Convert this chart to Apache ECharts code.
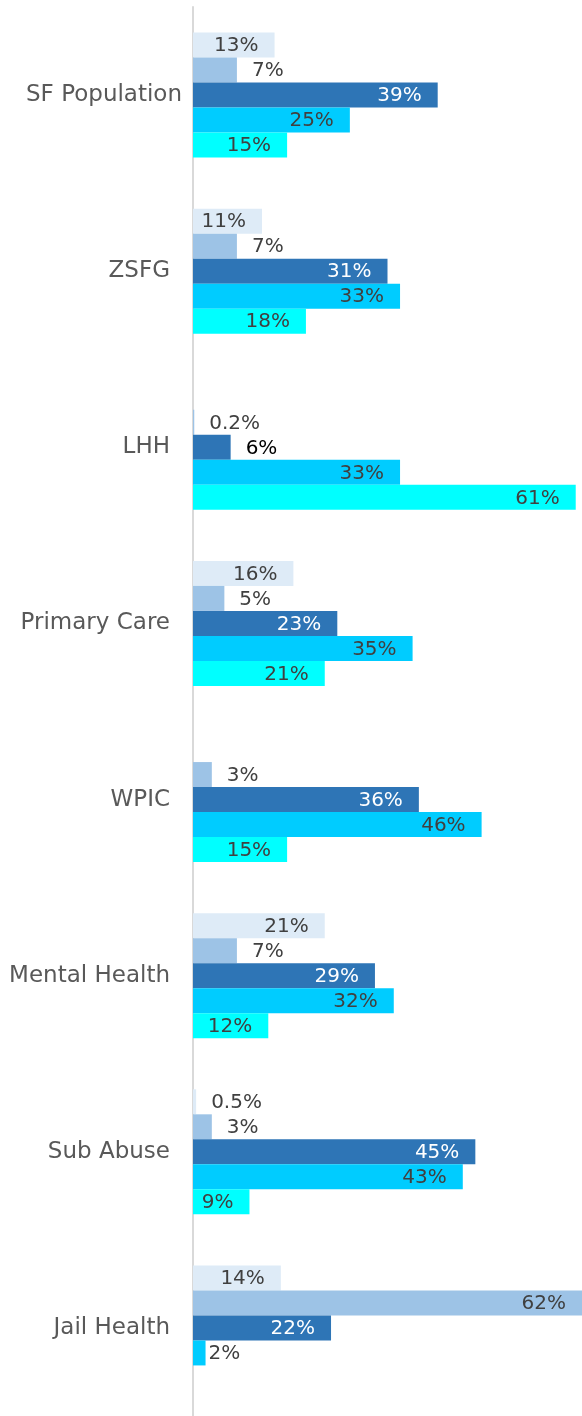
<!DOCTYPE html>
<html>
<head>
<meta charset="utf-8">
<script src="https://cdn.jsdelivr.net/npm/echarts@6/dist/echarts.min.js"></script>
<style>
html,body{margin:0;padding:0;background:#fff;}
#chart{width:582px;height:1416px;}
</style>
</head>
<body>
<div id="chart"></div>
<script>
// Categories (top to bottom)
const categories = ['SF Population', 'ZSFG', 'LHH', 'Primary Care', 'WPIC', 'Mental Health', 'Sub Abuse', 'Jail Health'];
// Series values (percent); null = no bar
const series1 = [13, 11, null, 16, null, 21, 0.5, 14];
const series2 = [7, 7, 0.2, 5, 3, 7, 3, 62];
const series3 = [39, 31, 6, 23, 36, 29, 45, 22];
const series4 = [25, 33, 33, 35, 46, 32, 43, 2];
const series5 = [15, 18, 61, 21, 15, 12, 9, null];
const seriesNames = ['Series 1', 'Series 2', 'Series 3', 'Series 4', 'Series 5'];

const allSeries = [series1, series2, series3, series4, series5];
const colors = ['#DEEBF7', '#9DC3E6', '#2E75B6', '#00CCFF', '#00FFFF'];
const FONT = 'DejaVu Sans';

function buildData(vals, si) {
  return vals.map(function (v) {
    if (v === null) return null;
    const outside = v < 8;
    let color = '#404040';
    if (si === 2) color = outside ? '#000000' : '#FFFFFF';
    return {
      value: v,
      label: {
        show: true,
        position: outside ? 'right' : 'insideRight',
        distance: outside ? (si === 3 ? 3 : 15) : 16,
        color: color,
        fontFamily: FONT,
        fontSize: 20,
        offset: [0, 1],
        formatter: function (p) { return p.value + '%'; }
      }
    };
  });
}

const chart = echarts.init(document.getElementById('chart'), null, {renderer: 'canvas'});
chart.setOption({
  animation: false,
  grid: {left: 193, right: 0, top: 7, height: 1415, containLabel: false},
  xAxis: {
    type: 'value', min: 0, max: 62, show: false,
    splitLine: {show: false}
  },
  yAxis: {
    type: 'category',
    data: categories,
    inverse: true,
    axisLine: {show: true, lineStyle: {color: '#D9D9D9', width: 2}},
    axisTick: {show: false},
    axisLabel: {
      margin: 11,
      color: '#595959',
      fontFamily: FONT,
      fontSize: 23,
      formatter: function (v) { return v === 'SF Population' ? v : '{p|' + v + '}'; },
      rich: {
        p: {padding: [0, 12, 0, 0], color: '#595959', fontFamily: FONT, fontSize: 23}
      }
    }
  },
  series: allSeries.map(function (vals, i) {
    return {
      name: seriesNames[i],
      type: 'bar',
      barWidth: 25,
      barGap: '0%',
      itemStyle: {color: colors[i]},
      data: buildData(vals, i)
    };
  })
});
</script>
</body>
</html>
